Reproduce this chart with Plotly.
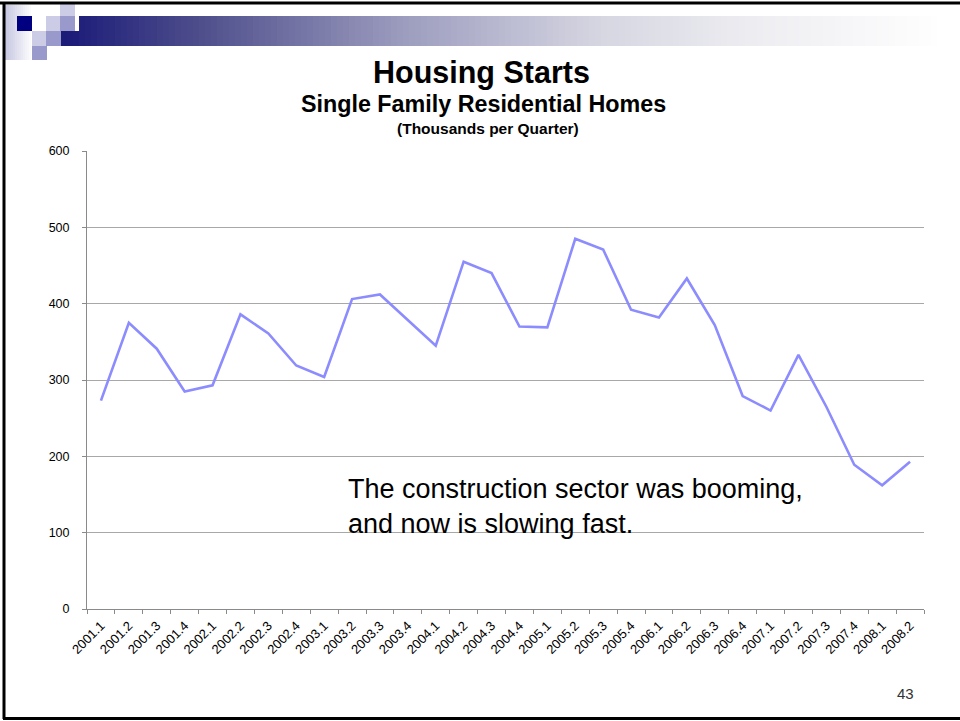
import plotly.graph_objects as go

# ---- data ----
quarters = ["2001.1", "2001.2", "2001.3", "2001.4",
            "2002.1", "2002.2", "2002.3", "2002.4",
            "2003.1", "2003.2", "2003.3", "2003.4",
            "2004.1", "2004.2", "2004.3", "2004.4",
            "2005.1", "2005.2", "2005.3", "2005.4",
            "2006.1", "2006.2", "2006.3", "2006.4",
            "2007.1", "2007.2", "2007.3", "2007.4",
            "2008.1", "2008.2"]
starts = [273, 375, 341, 285,
          293, 386, 361, 319,
          304, 406, 412, 378,
          345, 455, 440, 370,
          369, 485, 471, 392,
          382, 433, 372, 279,
          260, 333, 265, 189,
          162, 193]
y_ticks = [0, 100, 200, 300, 400, 500, 600]

title_main = "Housing Starts"
title_sub = "Single Family Residential Homes"
title_unit = "(Thousands per Quarter)"
note_text = "The construction sector was booming,<br>and now is slowing fast."
page_no = "43"

# ---- geometry ----
W, H = 960, 721
L, R, T, B = 87, 36, 151, 112
PW = W - L - R
PH = H - T - B

def px(x):
    return (x - L) / PW

def py(y):
    return (H - B - y) / PH

FONT = "Arial, Liberation Sans, sans-serif"

fig = go.Figure()
fig.add_trace(go.Scatter(
    x=quarters, y=starts, mode="lines",
    line=dict(color="#8c8cff", width=2.6),
    hoverinfo="x+y", showlegend=False,
))

shapes = []

def rect(x0, y0, x1, y1, color):
    shapes.append(dict(type="rect", xref="paper", yref="paper",
                       x0=px(x0), x1=px(x1), y0=py(y1), y1=py(y0),
                       fillcolor=color, layer="below", line=dict(width=0)))

# left faint gradient strip
for i in range(14):
    x0 = 5 + i * 2
    t = i / 13
    c = int(200 + (255 - 200) * t)
    c2 = int(226 + (255 - 226) * t)
    rect(x0, 5, x0 + 2.2, 60, f"rgb({c},{c},{c2})")

# gradient bar
stops = [(61, (26, 26, 120)), (75, (30, 30, 122)), (200, (78, 78, 140)),
         (400, (155, 155, 190)), (600, (214, 214, 226)), (760, (238, 238, 242)),
         (860, (247, 247, 249)), (945, (255, 255, 255)), (960, (255, 255, 255))]

def col_at(x):
    for (xa, ca), (xb, cb) in zip(stops[:-1], stops[1:]):
        if xa <= x <= xb:
            t = (x - xa) / (xb - xa)
            return tuple(int(round(a + (b - a) * t)) for a, b in zip(ca, cb))
    return stops[-1][1]

step = 6
x = 61
while x < 960:
    c = col_at(x + step / 2)
    y0 = 31 if x < 75 else 16
    rect(x, y0, min(x + step + 0.6, 960), 46, f"rgb({c[0]},{c[1]},{c[2]})")
    x += step

LIGHT = "#ccccE6"
MED = "#9999cc"
rect(17, 16, 32, 31, "#000080")
rect(46, 16, 60, 31, LIGHT)
rect(60, 16, 75, 31, MED)
rect(60, 4, 75, 16, LIGHT)
rect(32, 31, 46, 46, LIGHT)
rect(46, 31, 61, 46, MED)
rect(32, 46, 47, 60, MED)

# slide border (top, left, bottom)
shapes.append(dict(type="line", xref="paper", yref="paper",
                   x0=px(0), x1=px(960), y0=py(3), y1=py(3),
                   line=dict(color="black", width=3)))
shapes.append(dict(type="line", xref="paper", yref="paper",
                   x0=px(4), x1=px(4), y0=py(2), y1=py(719),
                   line=dict(color="black", width=3)))
shapes.append(dict(type="line", xref="paper", yref="paper",
                   x0=px(3), x1=px(960), y0=py(718.5), y1=py(718.5),
                   line=dict(color="black", width=3)))

annotations = [
    dict(text=f"<b>{title_main}</b>", x=px(481), y=py(72), xref="paper", yref="paper",
         showarrow=False, xanchor="center", yanchor="middle",
         font=dict(family=FONT, size=30.5, color="black")),
    dict(text=f"<b>{title_sub}</b>", x=px(483), y=py(104), xref="paper", yref="paper",
         showarrow=False, xanchor="center", yanchor="middle",
         font=dict(family=FONT, size=23.3, color="black")),
    dict(text=f"<b>{title_unit}</b>", x=px(488), y=py(128), xref="paper", yref="paper",
         showarrow=False, xanchor="center", yanchor="middle",
         font=dict(family=FONT, size=15.5, color="black")),
    dict(text=note_text, x=px(346), y=py(506), xref="paper", yref="paper",
         showarrow=False, xanchor="left", yanchor="middle", align="left",
         font=dict(family=FONT, size=27, color="black")),
    dict(text=page_no, x=px(905), y=py(693), xref="paper", yref="paper",
         showarrow=False, xanchor="center", yanchor="middle",
         font=dict(family="Liberation Sans, Arial, sans-serif", size=15, color="#333333")),
]

fig.update_layout(
    width=W, height=H,
    margin=dict(l=L, r=R, t=T, b=B, pad=0),
    paper_bgcolor="white", plot_bgcolor="white",
    shapes=shapes, annotations=annotations,
    xaxis=dict(
        type="category", tickangle=-45, tickson="boundaries",
        ticks="outside", ticklen=4, tickcolor="#8a8a8a",
        showline=True, linecolor="#8a8a8a", linewidth=1,
        showgrid=False, zeroline=False, ticklabelstandoff=3,
        tickfont=dict(family=FONT, size=13, color="black"),
        range=[-0.5, len(quarters) - 0.5],
    ),
    yaxis=dict(
        range=[0, 600], tickvals=y_ticks, ticktext=[str(v) for v in y_ticks],
        ticks="outside", ticklen=4, tickcolor="#8a8a8a",
        showline=True, linecolor="#8a8a8a", linewidth=1,
        showgrid=True, gridcolor="#a8a8a8", gridwidth=1,
        zeroline=False, ticklabelstandoff=10,
        tickfont=dict(family=FONT, size=12.5, color="black"),
    ),
)

fig.write_html("out.html", config={"displayModeBar": False},
               post_script="document.body.style.margin='0';document.body.style.overflow='hidden';")
